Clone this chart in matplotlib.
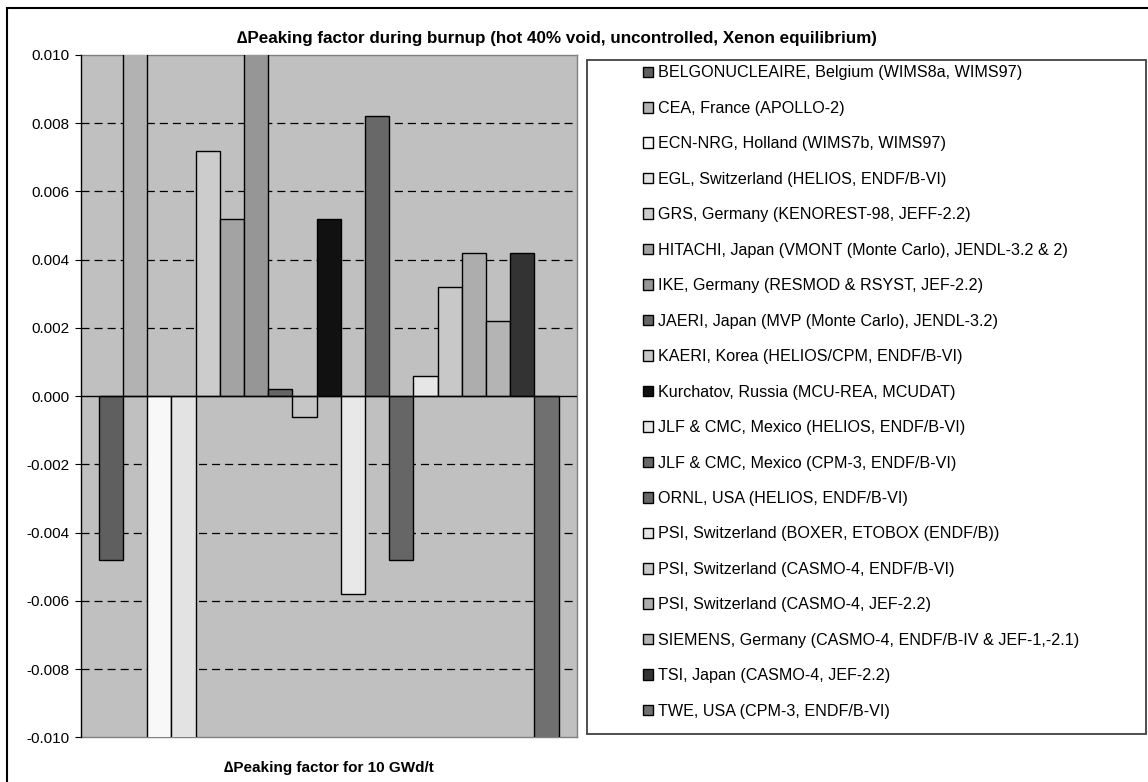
import numpy as np
import matplotlib
matplotlib.use("Agg")
import matplotlib.pyplot as plt
from matplotlib.patches import Rectangle

plt.rcParams['font.family'] = ['Liberation Sans', 'DejaVu Sans']
plt.rcParams['lines.scale_dashes'] = False

# Участники расчёта и значения ΔPeaking factor при 10 GWd/t
labels = [
    "BELGONUCLEAIRE, Belgium (WIMS8a, WIMS97)",
    "CEA, France (APOLLO-2)",
    "ECN-NRG, Holland (WIMS7b, WIMS97)",
    "EGL, Switzerland (HELIOS, ENDF/B-VI)",
    "GRS, Germany (KENOREST-98, JEFF-2.2)",
    "HITACHI, Japan (VMONT (Monte Carlo), JENDL-3.2 & 2)",
    "IKE, Germany (RESMOD & RSYST, JEF-2.2)",
    "JAERI, Japan (MVP (Monte Carlo), JENDL-3.2)",
    "KAERI, Korea (HELIOS/CPM, ENDF/B-VI)",
    "Kurchatov, Russia (MCU-REA, MCUDAT)",
    "JLF & CMC, Mexico (HELIOS, ENDF/B-VI)",
    "JLF & CMC, Mexico (CPM-3, ENDF/B-VI)",
    "ORNL, USA (HELIOS, ENDF/B-VI)",
    "PSI, Switzerland (BOXER, ETOBOX (ENDF/B))",
    "PSI, Switzerland (CASMO-4, ENDF/B-VI)",
    "PSI, Switzerland (CASMO-4, JEF-2.2)",
    "SIEMENS, Germany (CASMO-4, ENDF/B-IV & JEF-1,-2.1)",
    "TSI, Japan (CASMO-4, JEF-2.2)",
    "TWE, USA (CPM-3, ENDF/B-VI)",
]
values = [-0.0048, 0.0122, -0.0134, -0.0116, 0.0072, 0.0052, 0.0106, 0.0002,
          -0.0006, 0.0052, -0.0058, 0.0082, -0.0048, 0.0006, 0.0032, 0.0042,
          0.0022, 0.0042, -0.0106]
colors = ['#5f5f5f', '#b2b2b2', '#f8f8f8', '#e3e3e3', '#cccccc', '#a3a3a3',
          '#969696', '#666666', '#c6c6c6', '#111111', '#e8e8e8', '#686868',
          '#666666', '#e6e6e6', '#c8c8c8', '#adadad', '#b4b4b4', '#333333',
          '#707070']
yticks = np.arange(-0.010, 0.0101, 0.002)

W, H = 1148, 782
fig = plt.figure(figsize=(W / 100, H / 100), dpi=100)
fig.patch.set_facecolor('white')

# рамка диаграммы
fig.add_artist(Rectangle((6.5 / W, -0.05), 1.1, (H - 7.5) / H + 0.05,
                         transform=fig.transFigure, fill=False,
                         edgecolor='black', linewidth=1.5))

ax = fig.add_axes([80.7 / W, (H - 737.3) / H, 496 / W, (737.3 - 55) / H])
ax.set_facecolor('#c0c0c0')

x = np.arange(len(values))
bars = []
for i in range(len(values)):
    b = ax.bar(x[i], values[i], width=1.0, color=colors[i], edgecolor='black',
               linewidth=1.0, label=labels[i], zorder=3)
    bars.append(b)

ax.set_xlim(-1.25, len(values) - 1 + 1.25)
ax.set_ylim(-0.010, 0.010)
ax.set_yticks(yticks)
ax.set_yticklabels(['%.3f' % v for v in yticks], fontsize=11)
ax.set_xticks([])
ax.tick_params(axis='y', direction='out', length=4, width=0.8, pad=4)

# сетка
for v in yticks[1:-1]:
    if abs(v) < 1e-9:
        continue
    ax.axhline(v, color='black', linewidth=0.9, linestyle=(0, (5.8, 3.6)),
               zorder=1)
ax.axhline(0, color='black', linewidth=1.0, zorder=4)

for s in ['top', 'right', 'bottom']:
    ax.spines[s].set_color('#808080')
    ax.spines[s].set_linewidth(1.0)
ax.spines['left'].set_color('black')
ax.spines['left'].set_linewidth(1.0)
ax.spines['left'].set_zorder(5)

fig.text(557 / W, 1 - 43 / H,
         "\u2206Peaking factor during burnup (hot 40% void, uncontrolled, Xenon equilibrium)",
         ha='center', va='baseline', fontsize=12.25, fontweight='bold')
fig.text(328.7 / W, 1 - 768 / H, "\u2206Peaking factor for 10 GWd/t",
         ha='center', va='center', fontsize=11, fontweight='bold')

# легенда
fig.add_artist(Rectangle((587 / W, (H - 734) / H), (1146 - 587) / W, (734 - 60) / H,
                         transform=fig.transFigure, facecolor='white',
                         edgecolor='#404040', linewidth=1.3))
leg = fig.legend(handles=[b[0] for b in bars], labels=labels,
                 loc='upper left', bbox_to_anchor=(643 / W, 1 - 65.5 / H),
                 frameon=False, fontsize=11.6, handlelength=0.63,
                 handleheight=0.63, handletextpad=0.3, labelspacing=1.27,
                 borderpad=0, borderaxespad=0)

fig.savefig('out.png', dpi=100)
